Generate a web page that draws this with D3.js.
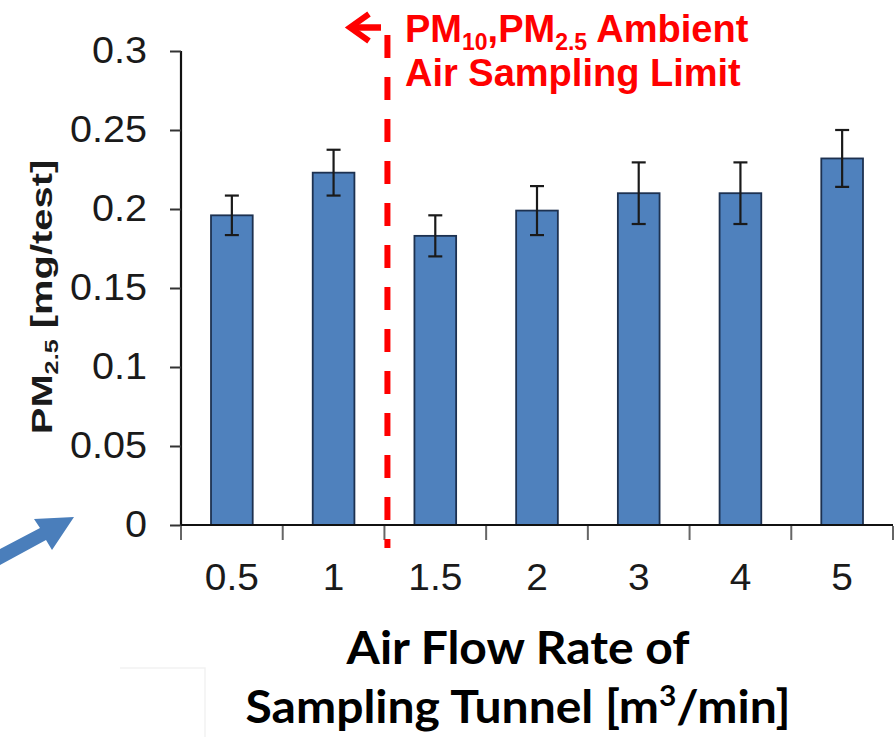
<!DOCTYPE html>
<html>
<head>
<meta charset="utf-8">
<script src="https://cdn.jsdelivr.net/npm/d3@7"></script>
<style>
  body { margin: 0; background: #fff; }
  svg { display: block; }
</style>
</head>
<body>
<svg class="mainsvg" width="895" height="737"></svg>
<script>
// air flow rate categories and PM2.5 mass per test
var categories = ["0.5", "1", "1.5", "2", "3", "4", "5"];
var pm25 = [0.196, 0.223, 0.183, 0.199, 0.210, 0.210, 0.232];
var pm25Err = [0.0125, 0.0145, 0.013, 0.0155, 0.0195, 0.0195, 0.018];
var yTicks = [0, 0.05, 0.1, 0.15, 0.2, 0.25, 0.3];
// the ambient sampling limit sits between these two categories
var limitAfter = "1";

var plotL = 181, plotR = 893, plotT = 51, plotB = 525;
var barFrac = 0.41;

var svg = d3.select(".mainsvg");

var x = d3.scaleBand()
    .domain(categories)
    .range([plotL, plotR])
    .padding(0);

var y = d3.scaleLinear()
    .domain([0, 0.3])
    .range([plotB, plotT]);

var bw = x.bandwidth() * barFrac;

// bars
svg.selectAll(".bar")
    .data(categories)
    .enter().append("rect")
    .attr("class", "bar")
    .attr("x", function (d) { return x(d) + (x.bandwidth() - bw) / 2; })
    .attr("y", function (d, i) { return y(pm25[i]); })
    .attr("width", bw)
    .attr("height", function (d, i) { return y(0) - y(pm25[i]); })
    .attr("fill", "#4f81bd")
    .attr("stroke", "#1d3150")
    .attr("stroke-width", 1.8);

// error bars
var capW = 7;
var err = svg.selectAll(".err")
    .data(categories)
    .enter().append("g")
    .attr("class", "err")
    .attr("stroke", "#1a1a1a")
    .attr("stroke-width", 2.2);

err.append("line")
    .attr("x1", function (d) { return x(d) + x.bandwidth() / 2; })
    .attr("x2", function (d) { return x(d) + x.bandwidth() / 2; })
    .attr("y1", function (d, i) { return y(pm25[i] + pm25Err[i]); })
    .attr("y2", function (d, i) { return y(pm25[i] - pm25Err[i]); });

err.append("line")
    .attr("x1", function (d) { return x(d) + x.bandwidth() / 2 - capW; })
    .attr("x2", function (d) { return x(d) + x.bandwidth() / 2 + capW; })
    .attr("y1", function (d, i) { return y(pm25[i] + pm25Err[i]); })
    .attr("y2", function (d, i) { return y(pm25[i] + pm25Err[i]); });

err.append("line")
    .attr("x1", function (d) { return x(d) + x.bandwidth() / 2 - capW; })
    .attr("x2", function (d) { return x(d) + x.bandwidth() / 2 + capW; })
    .attr("y1", function (d, i) { return y(pm25[i] - pm25Err[i]); })
    .attr("y2", function (d, i) { return y(pm25[i] - pm25Err[i]); });

// y axis
var yAxis = svg.append("g")
    .attr("transform", "translate(" + plotL + ",0)")
    .call(d3.axisLeft(y).tickValues(yTicks).tickSize(11).tickPadding(23)
        .tickFormat(function (d) { return String(d); }));

yAxis.select(".domain").attr("stroke", "#111").attr("stroke-width", 2.2)
    .attr("d", "M0," + plotT + "V" + plotB);
yAxis.selectAll(".tick line").attr("stroke", "#333").attr("stroke-width", 2);
yAxis.selectAll(".tick text")
    .attr("x", 0)
    .attr("transform", "translate(-34,0) scale(1.07,1)")
    .attr("fill", "#1a1a1a")
    .style("font-family", "'Liberation Sans', Arial, sans-serif")
    .style("font-size", "37px");

// x axis: labels at centres, ticks at category boundaries
var xAxis = svg.append("g")
    .attr("transform", "translate(0," + plotB + ")")
    .call(d3.axisBottom(x).tickSize(0));

xAxis.select(".domain").attr("stroke", "#111").attr("stroke-width", 2.2)
    .attr("d", "M" + plotL + ",0H" + plotR);
xAxis.selectAll(".tick text")
    .attr("y", 0)
    .attr("dy", 0)
    .attr("transform", "translate(0,65) scale(1.05,1)")
    .attr("fill", "#1a1a1a")
    .style("font-family", "'Liberation Sans', Arial, sans-serif")
    .style("font-size", "37px");

var bounds = d3.range(categories.length + 1).map(function (i) { return plotL + i * x.step(); });
svg.selectAll(".xtick")
    .data(bounds)
    .enter().append("line")
    .attr("class", "xtick")
    .attr("x1", function (d) { return d; })
    .attr("x2", function (d) { return d; })
    .attr("y1", plotB + 1)
    .attr("y2", plotB + 15)
    .attr("stroke", "#666")
    .attr("stroke-width", 2);

// red dashed limit line
var limitX = x(limitAfter) + x.step() + 3;
svg.append("line")
    .attr("x1", limitX).attr("x2", limitX)
    .attr("y1", 35).attr("y2", 548)
    .attr("stroke", "#ff0000")
    .attr("stroke-width", 6)
    .attr("stroke-dasharray", "23,19");

// red arrow pointing left
svg.append("path")
    .attr("d", "M369,14L350,27.5L369,41")
    .attr("fill", "none")
    .attr("stroke", "#ff0000")
    .attr("stroke-width", 6);
svg.append("line")
    .attr("x1", 351).attr("x2", 381)
    .attr("y1", 27.5).attr("y2", 27.5)
    .attr("stroke", "#ff0000")
    .attr("stroke-width", 6.5);

// red annotation
var note = svg.append("g")
    .attr("fill", "#ff0000")
    .style("font-family", "'Liberation Sans', Arial, sans-serif")
    .style("font-weight", "bold")
    .style("font-size", "38px");

var n1 = note.append("text").attr("x", 405).attr("y", 41.5);
n1.append("tspan").text("PM");
n1.append("tspan").attr("dy", 8).style("font-size", "23px").text("10");
n1.append("tspan").attr("dy", -8).text(",PM");
n1.append("tspan").attr("dy", 8).style("font-size", "23px").text("2.5");
n1.append("tspan").attr("dy", -8).text(" Ambient");

note.append("text").attr("x", 405).attr("y", 86).text("Air Sampling Limit");

// y axis title
var yt = svg.append("text")
    .attr("transform", "translate(52,297) rotate(-90) scale(1.33,1)")
    .attr("text-anchor", "middle")
    .attr("fill", "#1a1a1a")
    .style("font-family", "'Liberation Sans', Arial, sans-serif")
    .style("font-weight", "bold")
    .style("font-size", "30px");
yt.append("tspan").text("PM");
yt.append("tspan").attr("dy", 6).style("font-size", "19px").text("2.5");
yt.append("tspan").attr("dy", -6).text(" [mg/test]");

// faint text box corner
svg.append("path")
    .attr("d", "M120,668H205V737")
    .attr("fill", "none")
    .attr("stroke", "#f2f2f2")
    .attr("stroke-width", 1.5);

// x axis title (two lines)
var xtStyle = function (t) {
    t.attr("text-anchor", "middle")
        .attr("fill", "#000")
        .style("font-family", "Lato, 'Open Sans', sans-serif")
        .style("font-weight", "bold")
        .style("font-size", "45px");
};
var xt1 = svg.append("text").call(xtStyle).text("Air Flow Rate of");
var xt2 = svg.append("text").call(xtStyle);
xt2.append("tspan").text("Sampling Tunnel [m");
xt2.append("tspan").attr("dy", -17).style("font-size", "28px").text("3");
xt2.append("tspan").attr("dy", 17).text("/min]");

var sx = 343 / xt1.node().getComputedTextLength();
xt1.attr("transform", "translate(518,664) scale(" + sx + ",1)");
xt2.attr("transform", "translate(518,723) scale(" + sx + ",1)");

// blue pointer arrow in the lower left
svg.append("polygon")
    .attr("points", "0,549 40,528 34,519 74,517 52,550 46,540 0,565")
    .attr("fill", "#4a7ebb");
</script>
</body>
</html>
